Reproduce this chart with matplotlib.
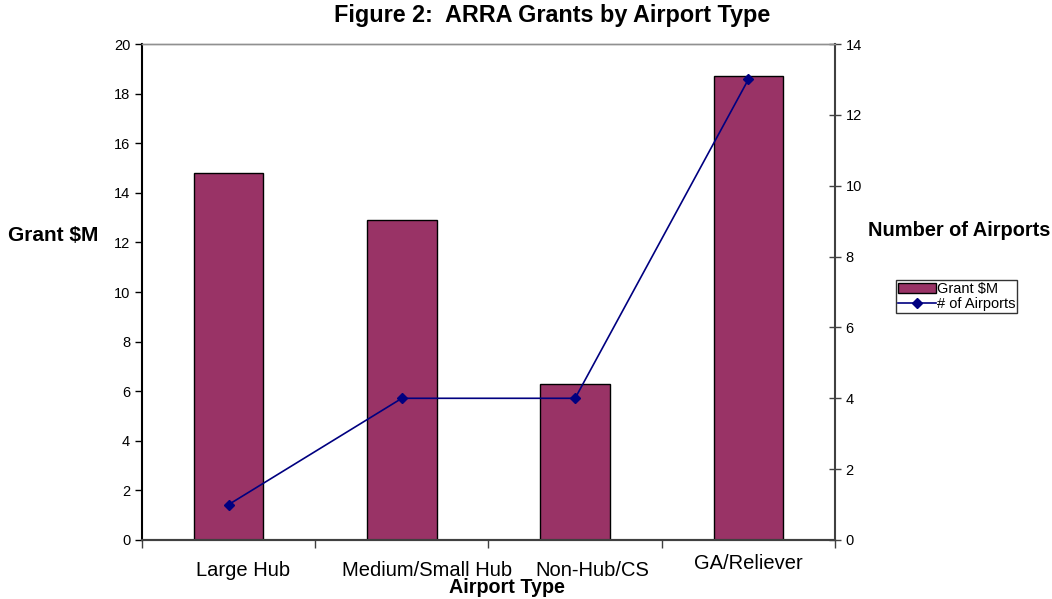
import numpy as np
import matplotlib
matplotlib.use("Agg")
import matplotlib.pyplot as plt
from matplotlib.transforms import ScaledTranslation

plt.rcParams['font.family'] = ['Liberation Sans', 'DejaVu Sans']

# --- Данные ---
categories = ['Large Hub', 'Medium/Small Hub', 'Non-Hub/CS', 'GA/Reliever']
grant_m = [14.8, 12.9, 6.3, 18.7]
n_airports = [1, 4, 4, 13]

BAR_COLOR = '#993366'
LINE_COLOR = '#000080'

fig = plt.figure(figsize=(10.52, 5.99), dpi=100)
ax = fig.add_axes([0.135, 0.0985, 0.6587, 0.828])
ax2 = ax.twinx()

x = np.arange(len(categories))
bars = ax.bar(x, grant_m, width=0.4, color=BAR_COLOR, edgecolor='black',
              linewidth=1.0, label='Grant $M', zorder=2)
line, = ax2.plot(x, n_airports, color=LINE_COLOR, marker='D', markersize=5,
                 linewidth=1.2, label='# of Airports', zorder=3)

ax.set_xlim(-0.5, len(categories) - 0.5)
ax.set_ylim(0, 20)
ax.set_yticks(np.arange(0, 21, 2))
ax2.set_ylim(0, 14)
ax2.set_yticks(np.arange(0, 15, 2))

# x: деления на границах, подписи по центрам
ax.set_xticks(np.arange(-0.5, len(categories), 1.0))
ax.set_xticklabels([])
ax.set_xticks(x, categories, minor=True)
ax.tick_params(axis='x', which='major', direction='out', length=6,
               color='#404040', width=1)
ax.tick_params(axis='x', which='minor', length=0, pad=15, labelsize=14.5)
# сдвиги подписей как в оригинале (в пикселях)
shifts = [(14, 0), (25, 0), (17, 0), (0, 7)]
for lbl, (dx, dy) in zip(ax.get_xticklabels(minor=True), shifts):
    lbl.set_transform(lbl.get_transform() +
                      ScaledTranslation(dx / 100, dy / 100, fig.dpi_scale_trans))

ax.tick_params(axis='y', direction='out', length=5, labelsize=10.5, width=1)
ax2.tick_params(axis='y', direction='inout', length=8, labelsize=10.5,
                color='#404040', width=1)

for a in (ax, ax2):
    a.spines['top'].set_color('#909090')
    a.spines['top'].set_linewidth(1.0)
    a.spines['bottom'].set_color('#404040')
    a.spines['bottom'].set_linewidth(1.5)
ax.spines['left'].set_color('black')
ax.spines['left'].set_linewidth(1.5)
ax2.spines['right'].set_color('#404040')
ax2.spines['right'].set_linewidth(1.5)
ax2.spines['left'].set_visible(False)
ax.spines['right'].set_visible(False)

ax.set_xlabel('Airport Type', fontsize=14.2, fontweight='bold')
ax.xaxis.label.set_va('center')
ax.xaxis.set_label_coords(0.527, -0.095)
fig.text(0.0075, 0.607, 'Grant $M', fontsize=15, fontweight='bold',
         va='center', ha='left')
fig.text(0.825, 0.616, 'Number of Airports', fontsize=14.4, fontweight='bold',
         va='center', ha='left')
fig.suptitle('Figure 2:  ARRA Grants by Airport Type', fontsize=16.8,
             fontweight='bold', x=0.525, y=0.994, va='top')

leg = fig.legend(handles=[bars, line], loc='center left',
                 bbox_to_anchor=(0.852, 0.505), fontsize=10.5,
                 frameon=True, fancybox=False, edgecolor='black',
                 borderpad=0.1, handlelength=2.6, handletextpad=0.1,
                 labelspacing=0.1, borderaxespad=0)
leg.get_frame().set_linewidth(1.0)

fig.savefig('out.png', dpi=100)
